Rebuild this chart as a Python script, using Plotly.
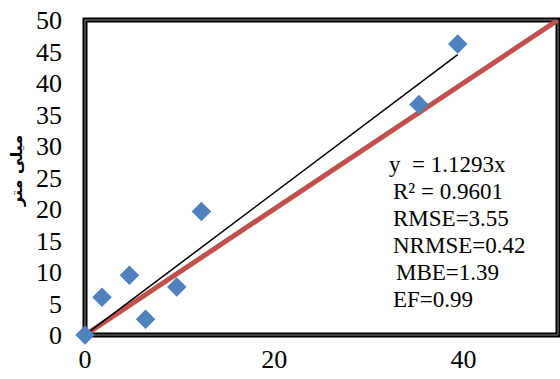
import plotly.graph_objects as go

# data
measured_x = [0.0, 1.8, 4.7, 6.4, 9.7, 12.3, 35.3, 39.4]
simulated_y = [0.0, 6.0, 9.5, 2.5, 7.6, 19.6, 36.6, 46.2]
slope = 1.1293
stats_lines = ["y  = 1.1293x", "R² = 0.9601", "RMSE=3.55", "NRMSE=0.42", "MBE=1.39", "EF=0.99"]
y_title = "میلی متر"
x_ticks = [0, 20, 40]
y_ticks = [0, 5, 10, 15, 20, 25, 30, 35, 40, 45, 50]

W, H = 560, 379
L, R, T, B = 85, 2, 20, 44

fig = go.Figure()
fig.add_trace(go.Scatter(x=[0, 50], y=[0, 50], mode="lines",
                         line=dict(color="#C0504D", width=5), hoverinfo="skip"))
xmax = max(measured_x)
fig.add_trace(go.Scatter(x=[0, xmax], y=[0, slope * xmax], mode="lines",
                         line=dict(color="black", width=1.5), hoverinfo="skip"))
fig.add_trace(go.Scatter(x=measured_x, y=simulated_y, mode="markers",
                         marker=dict(symbol="diamond", size=15, color="#4F81BD",
                                     line=dict(width=0)), cliponaxis=False))

font = "Liberation Serif"
fig.update_layout(
    width=W, height=H, margin=dict(l=L, r=R, t=T, b=B),
    paper_bgcolor="white", plot_bgcolor="white", showlegend=False,
    font=dict(family=font, color="black"),
    xaxis=dict(range=[0, 50], tickvals=x_ticks, showgrid=False, zeroline=False,
               showline=False, tickfont=dict(family=font, size=26, color="black"),
               ticks="", ticklabelstandoff=6),
    yaxis=dict(range=[0, 50], tickvals=y_ticks, showgrid=False, zeroline=False,
               showline=False, tickfont=dict(family=font, size=26, color="black"),
               ticks="", ticklabelstandoff=22),
)
# frame (double line look)
fig.add_shape(type="rect", xref="paper", yref="paper", x0=0, y0=0, x1=1, y1=1,
              line=dict(color="black", width=5), layer="below")
fig.add_shape(type="rect", xref="paper", yref="paper", x0=0, y0=0, x1=1, y1=1,
              line=dict(color="#888888", width=1), layer="below")

pw = W - L - R
ph = H - T - B
xs = [387, 391, 391, 391, 394, 391]
ys = [165, 191, 218, 245, 272, 299]
for txt, px, py in zip(stats_lines, xs, ys):
    fig.add_annotation(text=txt, xref="paper", yref="paper",
                       x=(px - L) / pw, y=1 - (py - T) / ph,
                       xanchor="left", yanchor="middle", showarrow=False,
                       font=dict(family=font, size=23, color="black"))

fig.add_annotation(text="<b>" + y_title + "</b>", xref="paper", yref="paper",
                   x=(16 - L) / pw, y=1 - (171 - T) / ph, textangle=-90,
                   xanchor="center", yanchor="middle", showarrow=False,
                   font=dict(family="DejaVu Sans", size=16, color="black"))

fig.write_html("out.html", config={"displayModeBar": False},
               post_script="document.body.style.margin='0';")
